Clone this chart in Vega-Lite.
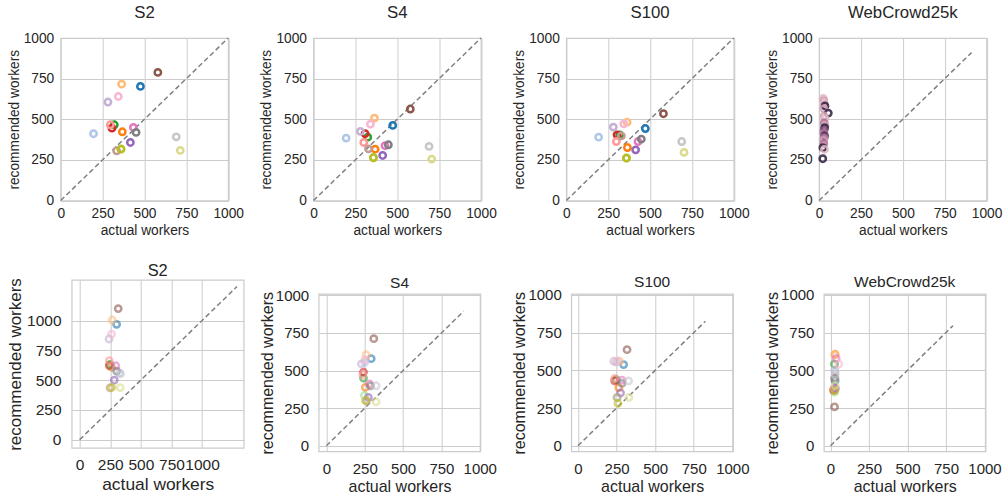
{
  "$schema": "https://vega.github.io/schema/vega-lite/v6.json",
  "padding": {"left": 5.7, "top": 4, "right": 5, "bottom": 5},
  "config": {
    "font": "Liberation Sans",
    "view": {"stroke": "#cccccc", "strokeWidth": 1.25},
    "axis": {"grid": true, "gridColor": "#cccccc", "gridWidth": 1, "domain": false, "ticks": false, "labelColor": "#262626", "titleColor": "#262626", "titleFontWeight": "normal", "labelFontSize": 13.75, "titleFontSize": 13.75, "labelOverlap": false, "labelFlush": false, "labelBound": false},
    "axisX": {"labelPadding": 6, "titlePadding": 3},
    "axisY": {"labelPadding": 7, "titlePadding": 2},
    "title": {"fontSize": 16.8, "fontWeight": "normal", "color": "#262626", "frame": "group", "offset": 9.3}
  },
  "datasets": {
    "pts": [
      {"p":"t1","s":"s0","x":476,"y":702},{"p":"t1","s":"s1","x":196,"y":411},{"p":"t1","s":"s2","x":368,"y":423},{"p":"t1","s":"s3","x":364,"y":716},{"p":"t1","s":"s4","x":320,"y":466},{"p":"t1","s":"s5","x":360,"y":318},{"p":"t1","s":"s6","x":306,"y":445},{"p":"t1","s":"s7","x":296,"y":466},{"p":"t1","s":"s8","x":416,"y":357},{"p":"t1","s":"s9","x":282,"y":606},{"p":"t1","s":"s10","x":580,"y":788},{"p":"t1","s":"s11","x":334,"y":306},{"p":"t1","s":"s12","x":434,"y":450},{"p":"t1","s":"s13","x":344,"y":640},{"p":"t1","s":"s14","x":450,"y":419},{"p":"t1","s":"s15","x":690,"y":392},{"p":"t1","s":"s16","x":360,"y":316},{"p":"t1","s":"s17","x":714,"y":308},
      {"p":"t2","s":"s0","x":473,"y":462},{"p":"t2","s":"s1","x":195,"y":384},{"p":"t2","s":"s2","x":368,"y":316},{"p":"t2","s":"s3","x":364,"y":507},{"p":"t2","s":"s4","x":324,"y":390},{"p":"t2","s":"s5","x":358,"y":265},{"p":"t2","s":"s6","x":308,"y":411},{"p":"t2","s":"s7","x":300,"y":357},{"p":"t2","s":"s8","x":413,"y":277},{"p":"t2","s":"s9","x":280,"y":425},{"p":"t2","s":"s10","x":578,"y":563},{"p":"t2","s":"s11","x":328,"y":318},{"p":"t2","s":"s12","x":427,"y":337},{"p":"t2","s":"s13","x":340,"y":470},{"p":"t2","s":"s14","x":447,"y":343},{"p":"t2","s":"s15","x":690,"y":333},{"p":"t2","s":"s16","x":358,"y":263},{"p":"t2","s":"s17","x":706,"y":255},
      {"p":"t3","s":"s0","x":472,"y":443},{"p":"t3","s":"s1","x":193,"y":390},{"p":"t3","s":"s2","x":365,"y":326},{"p":"t3","s":"s3","x":363,"y":482},{"p":"t3","s":"s4","x":319,"y":404},{"p":"t3","s":"s5","x":360,"y":262},{"p":"t3","s":"s6","x":303,"y":404},{"p":"t3","s":"s7","x":299,"y":363},{"p":"t3","s":"s8","x":414,"y":312},{"p":"t3","s":"s9","x":281,"y":452},{"p":"t3","s":"s10","x":580,"y":534},{"p":"t3","s":"s11","x":329,"y":398},{"p":"t3","s":"s12","x":428,"y":363},{"p":"t3","s":"s13","x":343,"y":472},{"p":"t3","s":"s14","x":448,"y":378},{"p":"t3","s":"s15","x":689,"y":363},{"p":"t3","s":"s16","x":359,"y":261},{"p":"t3","s":"s17","x":703,"y":296},
      {"p":"t4","s":"w0","x":25,"y":628},{"p":"t4","s":"w1","x":28,"y":614},{"p":"t4","s":"w0","x":30,"y":600},{"p":"t4","s":"w5","x":35,"y":582},{"p":"t4","s":"w1","x":28,"y":565},{"p":"t4","s":"w5","x":55,"y":538},{"p":"t4","s":"w1","x":30,"y":520},{"p":"t4","s":"w0","x":34,"y":505},{"p":"t4","s":"w2","x":30,"y":478},{"p":"t4","s":"w1","x":35,"y":462},{"p":"t4","s":"w5","x":33,"y":448},{"p":"t4","s":"w3","x":30,"y":432},{"p":"t4","s":"w2","x":28,"y":415},{"p":"t4","s":"w4","x":33,"y":398},{"p":"t4","s":"w2","x":30,"y":384},{"p":"t4","s":"w1","x":27,"y":370},{"p":"t4","s":"w2","x":28,"y":350},{"p":"t4","s":"w5","x":23,"y":325},{"p":"t4","s":"w0","x":32,"y":314},{"p":"t4","s":"w5","x":22,"y":257},
      {"p":"b1","s":"s0","x":302,"y":968},{"p":"b1","s":"s1","x":325,"y":560},{"p":"b1","s":"s2","x":261,"y":608},{"p":"b1","s":"s3","x":266,"y":1004},{"p":"b1","s":"s4","x":247,"y":632},{"p":"b1","s":"s5","x":255,"y":620},{"p":"b1","s":"s6","x":242,"y":622},{"p":"b1","s":"s7","x":242,"y":664},{"p":"b1","s":"s8","x":283,"y":500},{"p":"b1","s":"s9","x":240,"y":845},{"p":"b1","s":"s10","x":315,"y":1100},{"p":"b1","s":"s11","x":247,"y":435},{"p":"b1","s":"s12","x":296,"y":620},{"p":"b1","s":"s13","x":261,"y":885},{"p":"b1","s":"s14","x":302,"y":575},{"p":"b1","s":"s15","x":334,"y":553},{"p":"b1","s":"s16","x":261,"y":438},{"p":"b1","s":"s17","x":331,"y":436},
      {"p":"b2","s":"s0","x":292,"y":579},{"p":"b2","s":"s1","x":250,"y":555},{"p":"b2","s":"s2","x":254,"y":388},{"p":"b2","s":"s3","x":259,"y":605},{"p":"b2","s":"s4","x":242,"y":450},{"p":"b2","s":"s5","x":248,"y":335},{"p":"b2","s":"s6","x":242,"y":490},{"p":"b2","s":"s7","x":237,"y":472},{"p":"b2","s":"s8","x":274,"y":322},{"p":"b2","s":"s9","x":228,"y":545},{"p":"b2","s":"s10","x":309,"y":712},{"p":"b2","s":"s11","x":262,"y":300},{"p":"b2","s":"s12","x":281,"y":412},{"p":"b2","s":"s13","x":252,"y":572},{"p":"b2","s":"s14","x":287,"y":398},{"p":"b2","s":"s15","x":324,"y":399},{"p":"b2","s":"s16","x":256,"y":300},{"p":"b2","s":"s17","x":324,"y":292},
      {"p":"b3","s":"s0","x":296,"y":538},{"p":"b3","s":"s1","x":250,"y":555},{"p":"b3","s":"s2","x":264,"y":386},{"p":"b3","s":"s3","x":270,"y":560},{"p":"b3","s":"s4","x":248,"y":439},{"p":"b3","s":"s5","x":252,"y":320},{"p":"b3","s":"s6","x":238,"y":430},{"p":"b3","s":"s7","x":238,"y":446},{"p":"b3","s":"s8","x":276,"y":351},{"p":"b3","s":"s9","x":233,"y":560},{"p":"b3","s":"s10","x":318,"y":637},{"p":"b3","s":"s11","x":255,"y":320},{"p":"b3","s":"s12","x":285,"y":435},{"p":"b3","s":"s13","x":255,"y":562},{"p":"b3","s":"s14","x":285,"y":413},{"p":"b3","s":"s15","x":328,"y":430},{"p":"b3","s":"s16","x":259,"y":281},{"p":"b3","s":"s17","x":330,"y":320},
      {"p":"b4","s":"s0","x":30,"y":430},{"p":"b4","s":"s1","x":30,"y":483},{"p":"b4","s":"s2","x":30,"y":606},{"p":"b4","s":"s3","x":28,"y":600},{"p":"b4","s":"s4","x":26,"y":540},{"p":"b4","s":"s5","x":26,"y":355},{"p":"b4","s":"s6","x":19,"y":369},{"p":"b4","s":"s7","x":24,"y":380},{"p":"b4","s":"s8","x":32,"y":380},{"p":"b4","s":"s9","x":28,"y":500},{"p":"b4","s":"s10","x":26,"y":257},{"p":"b4","s":"s11","x":30,"y":450},{"p":"b4","s":"s12","x":37,"y":578},{"p":"b4","s":"s13","x":54,"y":540},{"p":"b4","s":"s14","x":26,"y":446},{"p":"b4","s":"s15","x":30,"y":470},{"p":"b4","s":"s16","x":28,"y":365},{"p":"b4","s":"s17","x":30,"y":400}
    ],
    "diag": [
      {"p":"t1","x":0,"y":0},{"p":"t1","x":1000,"y":1000},
      {"p":"t2","x":0,"y":0},{"p":"t2","x":1000,"y":1000},
      {"p":"t3","x":0,"y":0},{"p":"t3","x":1000,"y":1000},
      {"p":"t4","x":0,"y":0},{"p":"t4","x":910,"y":910},
      {"p":"b1","x":0,"y":0},{"p":"b1","x":1285,"y":1285},
      {"p":"b2","x":0,"y":0},{"p":"b2","x":895,"y":895},
      {"p":"b3","x":0,"y":0},{"p":"b3","x":825,"y":825},
      {"p":"b4","x":0,"y":0},{"p":"b4","x":795,"y":795}
    ]
  },
  "vconcat": [
    {
      "hconcat": [
        {
          "width": 167.5, "height": 162.5, "title": "S2",
          "encoding": {
            "x": {"field": "x", "type": "quantitative", "scale": {"domain": [0, 1000], "nice": false}, "title": "actual workers", "axis": {"values": [0, 250, 500, 750, 1000], "format": "d"}},
            "y": {"field": "y", "type": "quantitative", "scale": {"domain": [0, 1000], "nice": false}, "title": "recommended workers", "axis": {"values": [0, 250, 500, 750, 1000], "format": "d"}}
          },
          "layer": [
            {"data": {"name": "diag"}, "transform": [{"filter": "datum.p === 't1'"}], "mark": {"type": "line", "color": "#808080", "strokeDash": [5, 3], "strokeWidth": 1.5}},
            {"data": {"name": "pts"}, "transform": [{"filter": "datum.p === 't1'"}], "mark": {"type": "point", "filled": false, "size": 40, "strokeWidth": 2.5, "opacity": 1},
             "encoding": {"color": {"field": "s", "type": "nominal", "legend": null, "scale": {"domain": ["s0","s1","s2","s3","s4","s5","s6","s7","s8","s9","s10","s11","s12","s13","s14","s15","s16","s17"], "range": ["#1f77b4","#aec7e8","#ff7f0e","#ffbb78","#2ca02c","#98df8a","#d62728","#ff9896","#9467bd","#c5b0d5","#8c564b","#c49c94","#e377c2","#f7b6d2","#7f7f7f","#c7c7c7","#bcbd22","#dbdb8d"]}}}}
          ]
        },
        {
          "width": 167.5, "height": 162.5, "title": "S4",
          "encoding": {
            "x": {"field": "x", "type": "quantitative", "scale": {"domain": [0, 1000], "nice": false}, "title": "actual workers", "axis": {"values": [0, 250, 500, 750, 1000], "format": "d"}},
            "y": {"field": "y", "type": "quantitative", "scale": {"domain": [0, 1000], "nice": false}, "title": "recommended workers", "axis": {"values": [0, 250, 500, 750, 1000], "format": "d"}}
          },
          "layer": [
            {"data": {"name": "diag"}, "transform": [{"filter": "datum.p === 't2'"}], "mark": {"type": "line", "color": "#808080", "strokeDash": [5, 3], "strokeWidth": 1.5}},
            {"data": {"name": "pts"}, "transform": [{"filter": "datum.p === 't2'"}], "mark": {"type": "point", "filled": false, "size": 40, "strokeWidth": 2.5, "opacity": 1},
             "encoding": {"color": {"field": "s", "type": "nominal", "legend": null, "scale": {"domain": ["s0","s1","s2","s3","s4","s5","s6","s7","s8","s9","s10","s11","s12","s13","s14","s15","s16","s17"], "range": ["#1f77b4","#aec7e8","#ff7f0e","#ffbb78","#2ca02c","#98df8a","#d62728","#ff9896","#9467bd","#c5b0d5","#8c564b","#c49c94","#e377c2","#f7b6d2","#7f7f7f","#c7c7c7","#bcbd22","#dbdb8d"]}}}}
          ]
        },
        {
          "width": 167.5, "height": 162.5, "title": "S100",
          "encoding": {
            "x": {"field": "x", "type": "quantitative", "scale": {"domain": [0, 1000], "nice": false}, "title": "actual workers", "axis": {"values": [0, 250, 500, 750, 1000], "format": "d"}},
            "y": {"field": "y", "type": "quantitative", "scale": {"domain": [0, 1000], "nice": false}, "title": "recommended workers", "axis": {"values": [0, 250, 500, 750, 1000], "format": "d"}}
          },
          "layer": [
            {"data": {"name": "diag"}, "transform": [{"filter": "datum.p === 't3'"}], "mark": {"type": "line", "color": "#808080", "strokeDash": [5, 3], "strokeWidth": 1.5}},
            {"data": {"name": "pts"}, "transform": [{"filter": "datum.p === 't3'"}], "mark": {"type": "point", "filled": false, "size": 40, "strokeWidth": 2.5, "opacity": 1},
             "encoding": {"color": {"field": "s", "type": "nominal", "legend": null, "scale": {"domain": ["s0","s1","s2","s3","s4","s5","s6","s7","s8","s9","s10","s11","s12","s13","s14","s15","s16","s17"], "range": ["#1f77b4","#aec7e8","#ff7f0e","#ffbb78","#2ca02c","#98df8a","#d62728","#ff9896","#9467bd","#c5b0d5","#8c564b","#c49c94","#e377c2","#f7b6d2","#7f7f7f","#c7c7c7","#bcbd22","#dbdb8d"]}}}}
          ]
        },
        {
          "width": 167.5, "height": 162.5, "title": "WebCrowd25k",
          "encoding": {
            "x": {"field": "x", "type": "quantitative", "scale": {"domain": [0, 1000], "nice": false}, "title": "actual workers", "axis": {"values": [0, 250, 500, 750, 1000], "format": "d"}},
            "y": {"field": "y", "type": "quantitative", "scale": {"domain": [0, 1000], "nice": false}, "title": "recommended workers", "axis": {"values": [0, 250, 500, 750, 1000], "format": "d"}}
          },
          "layer": [
            {"data": {"name": "diag"}, "transform": [{"filter": "datum.p === 't4'"}], "mark": {"type": "line", "color": "#808080", "strokeDash": [5, 3], "strokeWidth": 1.5}},
            {"data": {"name": "pts"}, "transform": [{"filter": "datum.p === 't4'"}], "mark": {"type": "point", "filled": false, "size": 40, "strokeWidth": 2.5, "opacity": 0.85},
             "encoding": {"color": {"field": "s", "type": "nominal", "legend": null, "scale": {"domain": ["w0","w1","w2","w3","w4","w5"], "range": ["#e2b9c3","#d39db2","#b2769b","#85537f","#57345f","#2d1e3e"]}}}}
          ]
        }
      ],
      "spacing": 84.8,
      "bounds": "flush",
      "resolve": {"scale": {"x": "independent", "y": "independent", "color": "independent"}}
    },
    {
      "hconcat": [
        {"width": 1, "height": 1, "data": {"values": []}, "mark": "point", "view": {"stroke": null}},
        {
          "hconcat": [
            {
              "width": 172, "height": 168,
              "title": {"text": "S2", "fontSize": 16.4, "offset": -1.5},
              "encoding": {
                "x": {"field": "x", "type": "quantitative", "scale": {"domain": [-65, 1340], "nice": false, "zero": false}, "title": "actual workers", "axis": {"values": [0, 250, 500, 750, 1000], "format": "d", "labelFontSize": 15.5, "titleFontSize": 17.4, "labelPadding": 10, "titlePadding": 2}},
                "y": {"field": "y", "type": "quantitative", "scale": {"domain": [-70, 1340], "nice": false, "zero": false}, "title": "recommended workers", "axis": {"values": [0, 250, 500, 750, 1000], "format": "d", "labelFontSize": 15.5, "titleFontSize": 17, "labelPadding": 10.7, "titlePadding": 1.7}}
              },
              "layer": [
                {"data": {"name": "diag"}, "transform": [{"filter": "datum.p === 'b1'"}], "mark": {"type": "line", "color": "#808080", "strokeDash": [5, 3], "strokeWidth": 1.5}},
                {"data": {"name": "pts"}, "transform": [{"filter": "datum.p === 'b1'"}], "mark": {"type": "point", "filled": false, "size": 40, "strokeWidth": 2.5, "opacity": 0.6},
                 "encoding": {"color": {"field": "s", "type": "nominal", "legend": null, "scale": {"domain": ["s0","s1","s2","s3","s4","s5","s6","s7","s8","s9","s10","s11","s12","s13","s14","s15","s16","s17"], "range": ["#1f77b4","#aec7e8","#ff7f0e","#ffbb78","#2ca02c","#98df8a","#d62728","#ff9896","#9467bd","#c5b0d5","#8c564b","#c49c94","#e377c2","#f7b6d2","#7f7f7f","#c7c7c7","#bcbd22","#dbdb8d"]}}}}
              ]
            },
            {
              "vconcat": [
                {"width": 10, "height": 1, "data": {"values": []}, "mark": "point", "view": {"stroke": null}},
                {
                  "hconcat": [
                    {
                      "width": 161.7, "height": 157.5,
                      "title": {"text": "S4", "fontSize": 15.5, "offset": -2.7},
                      "encoding": {
                        "x": {"field": "x", "type": "quantitative", "scale": {"domain": [-50, 1004], "nice": false, "zero": false}, "title": "actual workers", "axis": {"values": [0, 250, 500, 750, 1000], "format": "d", "labelFontSize": 15, "titleFontSize": 16, "labelPadding": 10, "titlePadding": 2}},
                        "y": {"field": "y", "type": "quantitative", "scale": {"domain": [-38, 1009], "nice": false, "zero": false}, "title": "recommended workers", "axis": {"values": [0, 250, 500, 750, 1000], "format": "d", "labelFontSize": 15, "titleFontSize": 16, "labelPadding": 10, "titlePadding": 0}}
                      },
                      "layer": [
                        {"data": {"name": "diag"}, "transform": [{"filter": "datum.p === 'b2'"}], "mark": {"type": "line", "color": "#808080", "strokeDash": [5, 3], "strokeWidth": 1.5}},
                        {"data": {"name": "pts"}, "transform": [{"filter": "datum.p === 'b2'"}], "mark": {"type": "point", "filled": false, "size": 40, "strokeWidth": 2.5, "opacity": 0.6},
                         "encoding": {"color": {"field": "s", "type": "nominal", "legend": null, "scale": {"domain": ["s0","s1","s2","s3","s4","s5","s6","s7","s8","s9","s10","s11","s12","s13","s14","s15","s16","s17"], "range": ["#1f77b4","#aec7e8","#ff7f0e","#ffbb78","#2ca02c","#98df8a","#d62728","#ff9896","#9467bd","#c5b0d5","#8c564b","#c49c94","#e377c2","#f7b6d2","#7f7f7f","#c7c7c7","#bcbd22","#dbdb8d"]}}}}
                      ]
                    },
                    {
                      "width": 161.7, "height": 157.5,
                      "title": {"text": "S100", "fontSize": 15.5, "offset": -2.7},
                      "encoding": {
                        "x": {"field": "x", "type": "quantitative", "scale": {"domain": [-43, 1004], "nice": false, "zero": false}, "title": "actual workers", "axis": {"values": [0, 250, 500, 750, 1000], "format": "d", "labelFontSize": 15, "titleFontSize": 16, "labelPadding": 10, "titlePadding": 2}},
                        "y": {"field": "y", "type": "quantitative", "scale": {"domain": [-38, 1006], "nice": false, "zero": false}, "title": "recommended workers", "axis": {"values": [0, 250, 500, 750, 1000], "format": "d", "labelFontSize": 15, "titleFontSize": 16, "labelPadding": 10, "titlePadding": 0}}
                      },
                      "layer": [
                        {"data": {"name": "diag"}, "transform": [{"filter": "datum.p === 'b3'"}], "mark": {"type": "line", "color": "#808080", "strokeDash": [5, 3], "strokeWidth": 1.5}},
                        {"data": {"name": "pts"}, "transform": [{"filter": "datum.p === 'b3'"}], "mark": {"type": "point", "filled": false, "size": 40, "strokeWidth": 2.5, "opacity": 0.6},
                         "encoding": {"color": {"field": "s", "type": "nominal", "legend": null, "scale": {"domain": ["s0","s1","s2","s3","s4","s5","s6","s7","s8","s9","s10","s11","s12","s13","s14","s15","s16","s17"], "range": ["#1f77b4","#aec7e8","#ff7f0e","#ffbb78","#2ca02c","#98df8a","#d62728","#ff9896","#9467bd","#c5b0d5","#8c564b","#c49c94","#e377c2","#f7b6d2","#7f7f7f","#c7c7c7","#bcbd22","#dbdb8d"]}}}}
                      ]
                    },
                    {
                      "width": 161.7, "height": 157.5,
                      "title": {"text": "WebCrowd25k", "fontSize": 15.5, "offset": -2.7},
                      "encoding": {
                        "x": {"field": "x", "type": "quantitative", "scale": {"domain": [-43, 1007], "nice": false, "zero": false}, "title": "actual workers", "axis": {"values": [0, 250, 500, 750, 1000], "format": "d", "labelFontSize": 15, "titleFontSize": 16, "labelPadding": 10, "titlePadding": 2}},
                        "y": {"field": "y", "type": "quantitative", "scale": {"domain": [-38, 1005], "nice": false, "zero": false}, "title": "recommended workers", "axis": {"values": [0, 250, 500, 750, 1000], "format": "d", "labelFontSize": 15, "titleFontSize": 16, "labelPadding": 10, "titlePadding": 0}}
                      },
                      "layer": [
                        {"data": {"name": "diag"}, "transform": [{"filter": "datum.p === 'b4'"}], "mark": {"type": "line", "color": "#808080", "strokeDash": [5, 3], "strokeWidth": 1.5}},
                        {"data": {"name": "pts"}, "transform": [{"filter": "datum.p === 'b4'"}], "mark": {"type": "point", "filled": false, "size": 40, "strokeWidth": 2.5, "opacity": 0.6},
                         "encoding": {"color": {"field": "s", "type": "nominal", "legend": null, "scale": {"domain": ["s0","s1","s2","s3","s4","s5","s6","s7","s8","s9","s10","s11","s12","s13","s14","s15","s16","s17"], "range": ["#1f77b4","#aec7e8","#ff7f0e","#ffbb78","#2ca02c","#98df8a","#d62728","#ff9896","#9467bd","#c5b0d5","#8c564b","#c49c94","#e377c2","#f7b6d2","#7f7f7f","#c7c7c7","#bcbd22","#dbdb8d"]}}}}
                      ]
                    }
                  ],
                  "spacing": 90.6,
                  "bounds": "flush",
                  "resolve": {"scale": {"x": "independent", "y": "independent", "color": "independent"}}
                }
              ],
              "spacing": -7,
              "resolve": {"scale": {"x": "independent", "y": "independent", "color": "independent"}}
            }
          ],
          "spacing": 14,
          "resolve": {"scale": {"x": "independent", "y": "independent", "color": "independent"}}
        }
      ],
      "spacing": -56,
      "resolve": {"scale": {"x": "independent", "y": "independent", "color": "independent"}}
    }
  ],
  "spacing": 24,
  "resolve": {"scale": {"x": "independent", "y": "independent", "color": "independent"}}
}
